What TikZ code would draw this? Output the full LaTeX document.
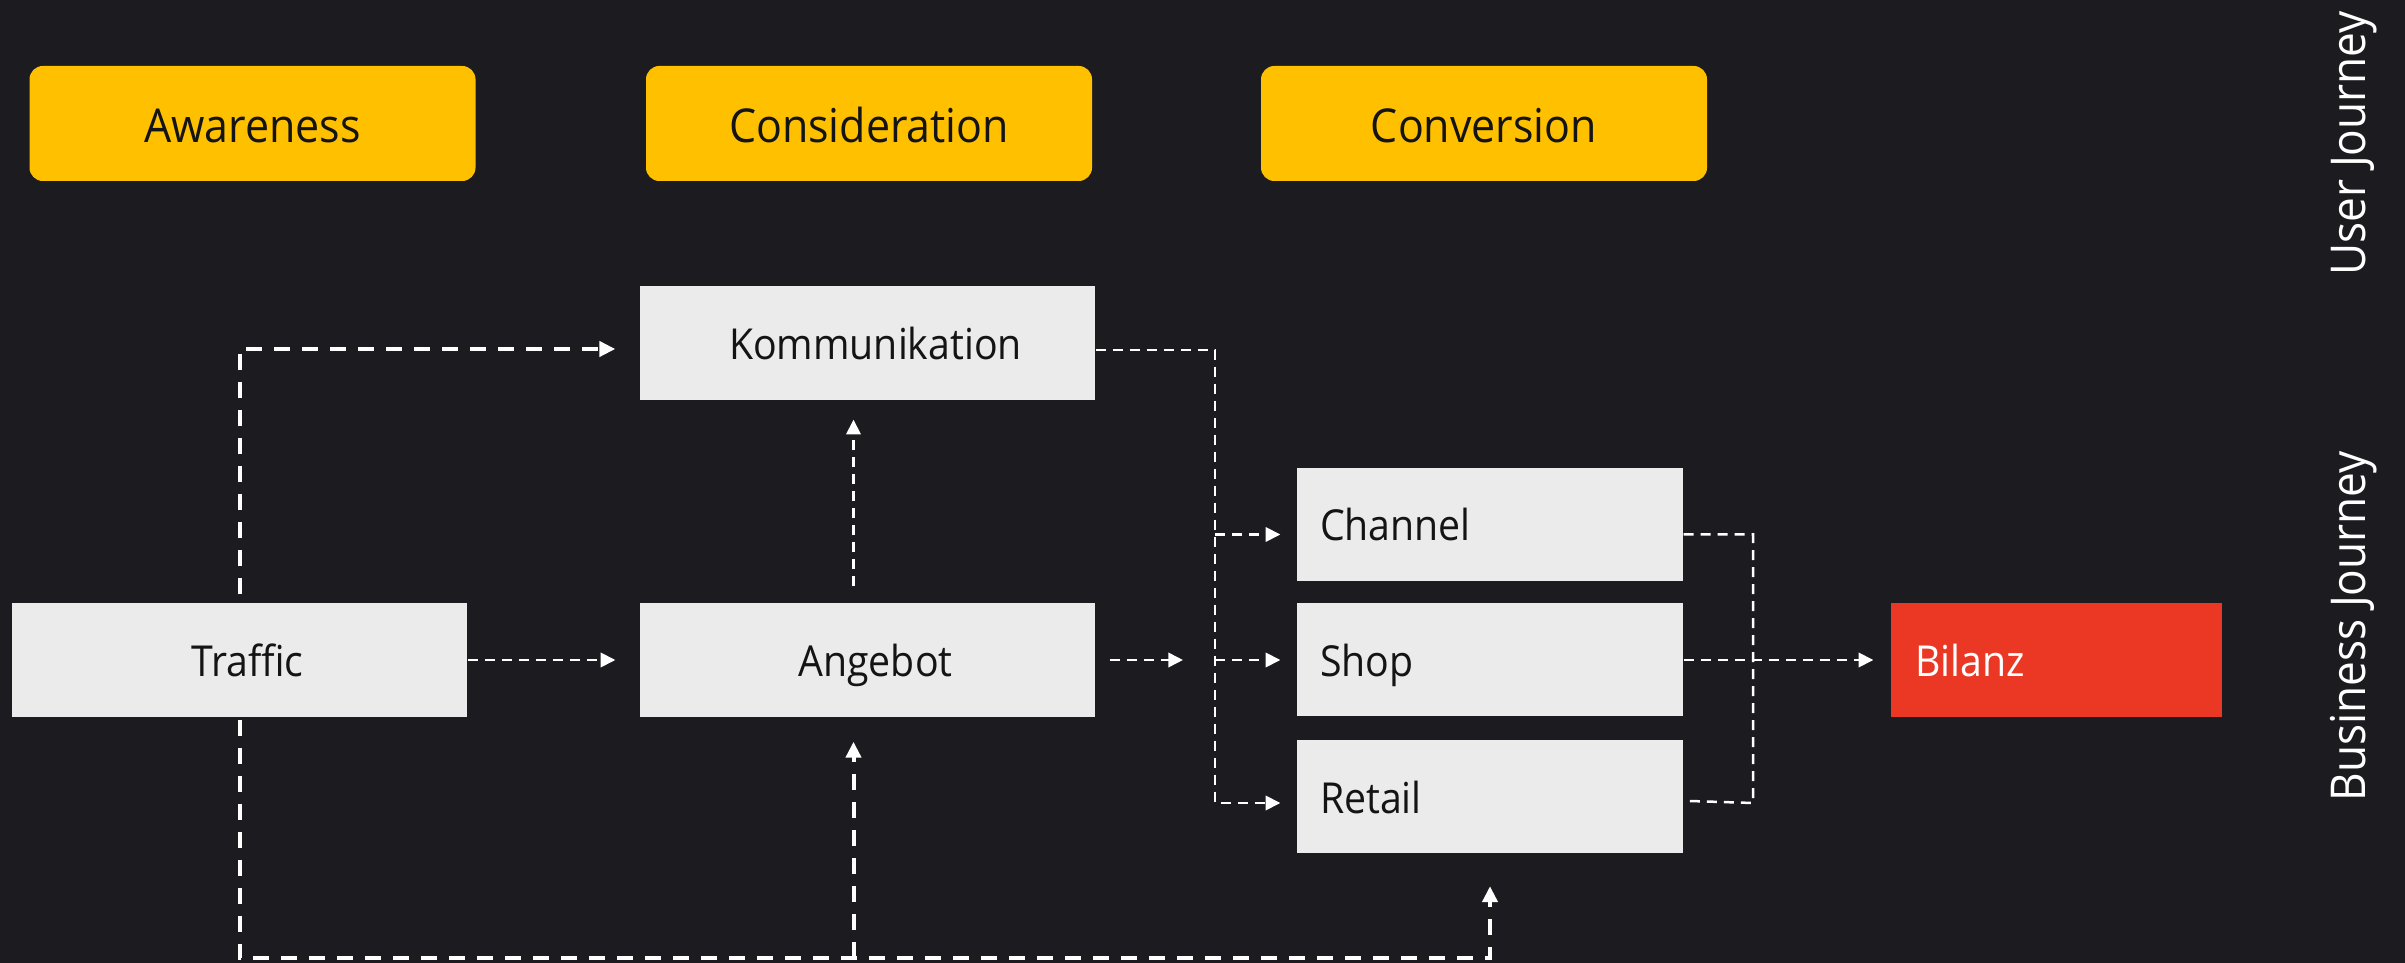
\documentclass[tikz,border=0pt]{standalone}
\usepackage{fontspec}
\setmainfont{Open Sans}[FakeStretch=0.92]
\usetikzlibrary{arrows.meta}
\definecolor{bg}{HTML}{1C1B20}
\definecolor{gold}{HTML}{FFC000}
\definecolor{lgray}{HTML}{EBEBEB}
\definecolor{red2}{HTML}{EB3825}
\definecolor{ink}{HTML}{141414}
\newlength\px
\setlength\px{0.3pt}
\tikzset{
  stage/.style={fill=gold, rounded corners=4pt, minimum width=446\px, minimum height=115\px, inner sep=0pt, text=ink, text height=11.5pt, text depth=0pt, font=\fontsize{14pt}{16pt}\selectfont},
  cbox/.style={fill=lgray, minimum width=455\px, minimum height=114\px, inner sep=0pt, text=ink, text height=9.9pt, text depth=0pt, font=\fontsize{12.8pt}{14pt}\selectfont},
  lbox/.style={fill=lgray, minimum width=386\px, minimum height=113\px, inner sep=0pt, text=ink, text height=9.9pt, text depth=0pt, text width=340\px, align=left, font=\fontsize{12.8pt}{14pt}\selectfont},
  sidelabel/.style={text=white, rotate=90, anchor=base west, inner sep=0pt, font=\fontsize{14.4pt}{17pt}\selectfont},
  thickdash/.style={draw=white, line width=1.2pt, dash pattern=on 4.8pt off 3.6pt},
  thindash/.style={draw=white, line width=0.75pt, dash pattern=on 3pt off 2.1pt},
  tip/.style={-{Triangle[length=4.4pt,width=4.3pt]}},
  bigtip/.style={-{Triangle[length=4.8pt,width=4.5pt]}}
}
\begin{document}
\begin{tikzpicture}[x=0.3pt,y=-0.3pt]
\fill[bg] (0,0) rectangle (2405,963);
\useasboundingbox (0,0) rectangle (2405,963);

% stages
\node[stage] (aw) at (252.5,123.5) {Awareness};
\node[stage] (cons) at (869,123.5) {Consideration};
\node[stage] (conv) at (1484,123.5) {Conversion};

% business boxes
\node[cbox] (komm) at (867.5,343) {\hspace*{16\px}Kommunikation};
\node[cbox] (traffic) at (239.5,660) {\hspace*{16\px}Traffic};
\node[cbox] (angebot) at (867.5,660) {\hspace*{16\px}Angebot};
\node[lbox] (channel) at (1490,524.5) {Channel};
\node[lbox] (shop) at (1490,660) {Shop};
\node[lbox] (retail) at (1490,797) {Retail};
\node[lbox, fill=red2, minimum width=331\px, minimum height=114\px, text width=283\px, text=white] (bilanz) at (2056.5,660) {Bilanz};

% side labels
\node[sidelabel] (uj) at (2365,276) {User Journey};
\node[sidelabel] (bj) at (2365,802) {Business Journey};

% helper coordinates
\coordinate (busx) at (1215,0);
\coordinate (bus2x) at (1753,0);
\coordinate (bot) at (0,958);
\coordinate (aend) at (1183,660);
\coordinate (ca) at ([xshift=-16\px,yshift=-10\px]channel.west);
\coordinate (sa) at ([xshift=-16\px]shop.west);
\coordinate (ra) at ([xshift=-16\px,yshift=-6\px]retail.west);

% Traffic -> Kommunikation
\draw[thickdash, bigtip] ([yshift=8\px]traffic.north) |- ([xshift=-24\px,yshift=-6\px]komm.west);
% Traffic -> Angebot
\draw[thindash, tip] (traffic.east) -- ([xshift=-24\px]angebot.west);
% Angebot -> Kommunikation
\draw[thindash, tip] ([xshift=-14\px,yshift=16\px]angebot.north) -- ([xshift=-14\px,yshift=-19\px]komm.south);
% Angebot -> conversion
\draw[thindash, tip] ([xshift=14\px]angebot.east) -- (aend);
% Kommunikation -> bus -> Retail
\draw[thindash, tip] ([yshift=-7\px]komm.east) -| (busx |- ra) -- (ra);
\draw[thindash, tip] (busx |- ca) -- (ca);
\draw[thindash, tip] (busx |- sa) -- (sa);
% Channel / Retail -> bus2
\draw[thindash] ([yshift=-10\px]channel.east) -| (bus2x |- ra) -- ([xshift=6\px,yshift=-4\px]retail.east);
% Shop -> Bilanz
\draw[thindash, tip] (shop.east) -- ([xshift=-17\px]bilanz.west);
% Traffic bottom loop
\draw[thickdash, bigtip] ([yshift=-2\px]traffic.south) -- (traffic.south |- bot) -- (retail.south |- bot) -- ([yshift=-32\px]retail.south);
\draw[thickdash, bigtip] ([xshift=-14\px]angebot.south |- bot) -- ([xshift=-14\px,yshift=-24\px]angebot.south);
\end{tikzpicture}
\end{document}
